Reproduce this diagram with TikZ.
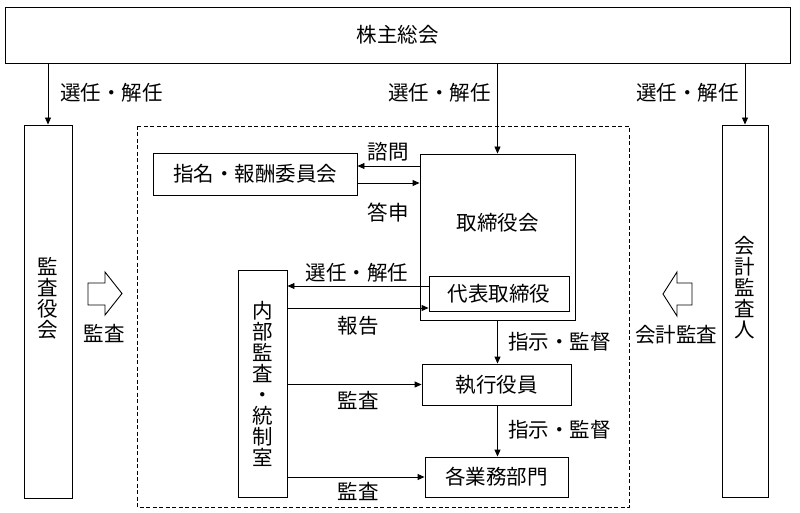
\documentclass[tikz,border=0pt]{standalone}
\usepackage{fontspec}
\setmainfont{Noto Sans CJK JP}
\usepackage{tikz}
\usetikzlibrary{arrows.meta}

\begin{document}
\begin{tikzpicture}[x=1pt,y=1pt]
\tikzstyle{every node}+=[inner sep=0pt,font=\fontsize{20.5}{21}\selectfont]
\tikzstyle{box}=[draw=black,line width=0.9pt,rectangle]
\tikzstyle{vbox}=[box,align=center]
\tikzstyle{arr}=[line width=0.9pt,-{Triangle[length=7pt,width=6pt]}]
\useasboundingbox (0,0) rectangle (800,-513);
\draw [black,line width=0.9pt,dashed,dash pattern=on 4pt off 2.5pt] (137,-126) rectangle (629,-507);
\node [box,minimum width=785,minimum height=56] (gm) at (397.5,-35) {株主総会};
\node [box,minimum width=48,minimum height=373,label={[align=center,yshift=13pt]center:監\\査\\役\\会}] (kansa) at (48,-311.5) {};
\node [box,minimum width=46,minimum height=372,label={[align=center,yshift=23pt]center:会\\計\\監\\査\\人}] (kaikei) at (745,-311) {};
\node [box,minimum width=204,minimum height=42] (iinkai) at (255,-174) {指名・報酬委員会};
\node [box,minimum width=155,minimum height=166,label={[yshift=14pt]center:取締役会}] (board) at (497.5,-237) {};
\node [box,minimum width=140,minimum height=35] (daihyo) at (499,-293.5) {代表取締役};
\node [vbox,minimum width=49,minimum height=227] (naibu) at (262.5,-383.5) {内\\部\\監\\査\\・\\統\\制\\室};
\node [box,minimum width=149,minimum height=41] (shikko) at (496.5,-384.5) {執行役員};
\node [box,minimum width=143,minimum height=40] (gyomu) at (496.5,-477) {各業務部門};
\coordinate (y1) at (0,-166);
\coordinate (y2) at (0,-183);
\coordinate (y3) at (0,-286);
\coordinate (y4) at (0,-308);
\draw [arr] (gm.south -| kansa) -- (kansa.north);
\node [anchor=west] (l1) at (60,-93) {選任・解任};
\draw [arr] (gm.south -| board) -- (board.north);
\node [anchor=east] (l2) at (491,-93) {選任・解任};
\draw [arr] (gm.south -| kaikei) -- (kaikei.north);
\node [anchor=east] (l3) at (739,-93) {選任・解任};
\draw [arr] (board.west |- y1) -- (iinkai.east |- y1);
\node (l4) at (388,-152) {諮問};
\draw [arr] (iinkai.east |- y2) -- (board.west |- y2);
\node (l5) at (388,-213) {答申};
\draw [arr] (daihyo.west |- y3) -- (naibu.east |- y3);
\node (l6) at (357,-273) {選任・解任};
\draw [arr] (naibu.east |- y4) -- (daihyo.west |- y4);
\node (l7) at (358,-326) {報告};
\draw [arr] (board.south) -- (board.south |- shikko.north);
\node [anchor=west] (l8) at (508,-342) {指示・監督};
\draw [arr] (board.south |- shikko.south) -- (board.south |- gyomu.north);
\node [anchor=west] (l9) at (508,-430) {指示・監督};
\draw [arr] (naibu.east |- shikko.west) -- (shikko.west);
\node (l10) at (358,-400) {監査};
\draw [arr] (naibu.east |- gyomu.west) -- (gyomu.west);
\node (l11) at (358,-491) {監査};
\draw [black,line width=0.9pt] (88,-283) -- (105,-283) -- (105,-272) -- (122,-293.5) -- (105,-315) -- (105,-305) -- (88,-305) -- cycle;
\node (l12) at (104,-333) {監査};
\draw [black,line width=0.9pt] (692,-283) -- (677,-283) -- (677,-272) -- (663,-294) -- (677,-316) -- (677,-305) -- (692,-305) -- cycle;
\node (l13) at (676,-335) {会計監査};
\end{tikzpicture}
\end{document}
